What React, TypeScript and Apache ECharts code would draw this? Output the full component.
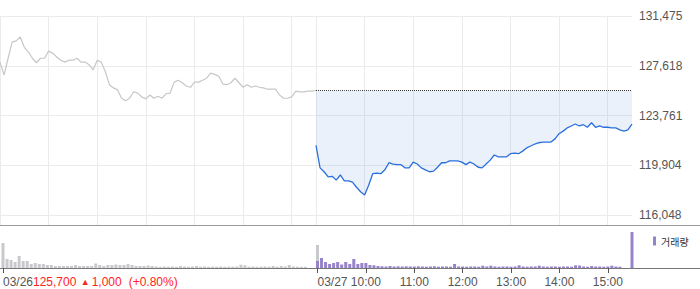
import React, { useEffect, useRef } from "react";
import * as echarts from "echarts";

// ---- data ----
const dayLabels = ["03/26", "03/27"];
const hourLabels = ["10:00", "11:00", "12:00", "13:00", "14:00", "15:00"];
const yTicks = [116048, 119904, 123761, 127618, 131475];
const yMin = 115273;
const yMax = 131475;
const prevClose = 125700;
const prevChange = 1000;
const prevChangePct = 0.8;

// 5-minute samples, 03/26 09:00 .. 15:30 (last = closing price)
const day1Price = [
  127900, 126900, 128200, 129450, 129550, 129850, 129050, 128700, 128200, 127850,
  128200, 128200, 128750, 128600, 128300, 128050, 127900, 128050, 128050, 128200,
  127900, 127900, 127700, 127300, 128050, 127900, 127150, 126150, 125900, 125750,
  125100, 124900, 125100, 125600, 125500, 125200, 125050, 125350, 125100, 125250,
  125100, 125450, 125500, 126350, 126500, 126300, 126050, 125950, 126350, 126350,
  126500, 126650, 127050, 126950, 126800, 126200, 126150, 126300, 126650, 126300,
  125950, 126150, 125950, 126050, 125950, 125900, 125800, 125800, 125800, 125350,
  125100, 125100, 125200, 125650, 125600, 125600, 125650, 125650, 125700,
];
// 5-minute samples, 03/27 09:00 .. 15:30
const day2Price = [
  121450, 119700, 119400, 119000, 119050, 118750, 119150, 118700, 118700, 118600,
  118200, 117850, 117600, 118350, 119250, 119300, 119250, 119550, 120100, 120000,
  119950, 119950, 119700, 119700, 120150, 120000, 119700, 119550, 119400, 119450,
  119750, 120100, 120100, 120250, 120250, 120250, 120150, 119950, 120150, 120000,
  119750, 119700, 120000, 120300, 120700, 120550, 120550, 120550, 120800, 120850,
  120800, 121000, 121250, 121400, 121550, 121650, 121700, 121700, 121700, 121950,
  122350, 122550, 122800, 122950, 123100, 122950, 123050, 122850, 123200, 122850,
  122950, 122850, 122850, 122800, 122800, 122650, 122550, 122650, 123100,
];
// volume (thousand shares)
const day1Volume = [
  25, 9, 8, 6, 12, 7, 7, 4, 5, 4,
  4, 3, 3, 2, 2, 2, 2, 2, 3, 2,
  2, 2, 2, 4.5, 3, 2, 3, 3, 3.5, 3,
  3, 4, 3, 2, 2, 2, 2.5, 2, 1.5, 1.2,
  1.5, 1.3, 1.5, 1.2, 2, 1.5, 1.3, 1.5, 2, 1.3,
  1.5, 1.2, 1.4, 1.3, 1.5, 1.2, 1.4, 1.3, 1.5, 3.3,
  2.7, 1.3, 1.5, 1.2, 1.4, 1.5, 1.3, 2, 1.3, 2,
  1.5, 3, 1.5, 1.3, 1.2, 1.2, 0, 0, 23,
];
const day2Volume = [
  7, 10, 6, 4, 5, 6, 3.5, 6, 4, 9,
  4, 5, 5, 3, 2.7, 2, 1.7, 1.5, 2, 1.5,
  1.7, 1.5, 1.7, 1.5, 1.5, 1.7, 1.5, 1.3, 1.5, 1.7,
  1.3, 1.5, 1.5, 1.3, 4, 1.5, 1.5, 1.3, 1.5, 1.5,
  1.3, 2.3, 1.5, 2.3, 1.5, 1.3, 1.5, 1.5, 1.3, 1.5,
  2.7, 1.5, 1.3, 1.5, 1.5, 2.3, 1.5, 1.3, 1.5, 1.5,
  1.3, 1.5, 1.5, 1.3, 2.7, 2.5, 1.5, 1.3, 2, 1.5,
  1.5, 1.3, 1.5, 2.3, 1.5, 1.3, 0, 0, 36,
];

const pad = (n: number) => String(n).padStart(2, "0");
const fmtTime = (t: number) => `${pad(Math.floor(t / 60))}:${pad(t % 60)}`;

// categories: day1 09:00..15:25, day2 09:00..15:30
const categories: string[] = [];
for (let t = 540; t < 930; t += 5) categories.push(`${dayLabels[0]} ${fmtTime(t)}`);
const day2Start = categories.length;
for (let t = 540; t <= 930; t += 5) categories.push(`${dayLabels[1]} ${fmtTime(t)}`);
const N = categories.length;

const padAfter = (arr: number[]) => [...arr, ...Array(N - arr.length).fill("-")];
const padBefore = (arr: number[]) => [...Array(N - arr.length).fill("-"), ...arr];

const isGridIdx = (idx: number) => {
  const time = categories[idx].split(" ")[1];
  if (idx === 0 || idx === day2Start) return true;
  return hourLabels.includes(time);
};
const isLabelIdx = (idx: number) => {
  if (idx === 0 || idx === day2Start) return true;
  return idx > day2Start && hourLabels.includes(categories[idx].split(" ")[1]);
};

const FONT = "'Liberation Sans', Arial, sans-serif";

export default function App() {
  const ref = useRef<HTMLDivElement>(null);
  useEffect(() => {
    document.body.style.margin = "0";
    if (!ref.current) return;
    const chart = echarts.init(ref.current, undefined, { renderer: "svg" });
    chart.setOption({
      animation: false,
      grid: [
        { left: 0, width: 632, top: 16, height: 209 },
        { left: 0, width: 632, top: 230, height: 38 },
      ],
      legend: {
        data: ["거래량"],
        left: 648,
        top: 231,
        icon: "rect",
        itemWidth: 3,
        itemHeight: 9,
        selectedMode: false,
        textStyle: { fontFamily: "'Noto Sans CJK KR', sans-serif", fontSize: 10, color: "#333" },
      },
      xAxis: [
        {
          type: "category",
          gridIndex: 0,
          data: categories,
          boundaryGap: false,
          axisLine: { show: false },
          axisTick: { show: false },
          axisLabel: { show: false },
          splitLine: {
            show: true,
            interval: (idx: number) => isGridIdx(idx),
            lineStyle: { color: "#ebebeb", width: 1 },
          },
        },
        {
          type: "category",
          gridIndex: 1,
          data: categories,
          boundaryGap: false,
          axisLine: { show: false },
          axisTick: {
            show: true,
            length: 5,
            interval: (idx: number) => isLabelIdx(idx),
            lineStyle: { color: "#555" },
          },
          splitLine: { show: false },
          axisLabel: {
            show: true,
            interval: (idx: number) => isLabelIdx(idx),
            margin: 8,
            fontFamily: FONT,
            fontSize: 12,
            color: "#555",
            alignMinLabel: "left",
            formatter: (value: string, idx: number) => {
              if (idx === 0)
                return `{d|${dayLabels[0]}}{r|${prevClose.toLocaleString("en-US")} }{t|▲}{r|${prevChange.toLocaleString("en-US")}}{p|(+${prevChangePct.toFixed(2)}%)}`;
              if (idx === day2Start) return `{e|${dayLabels[1]}}`;
              return value.split(" ")[1];
            },
            rich: {
              d: { fontFamily: FONT, fontSize: 12, color: "#555" },
              e: { fontFamily: FONT, fontSize: 12, color: "#555", padding: [0, 0, 0, 30] },
              r: { fontFamily: FONT, fontSize: 12, color: "#f22" },
              p: { fontFamily: FONT, fontSize: 12, color: "#f22", padding: [0, 0, 0, 7] },
              t: { fontFamily: FONT, fontSize: 9, color: "#f22", padding: [0, 2, 0, 1] },
            },
          },
        },
      ],
      yAxis: [
        {
          type: "value",
          gridIndex: 0,
          position: "right",
          min: yMin,
          max: yMax,
          axisLine: { show: false },
          axisTick: { show: false, customValues: yTicks },
          axisLabel: {
            customValues: yTicks,
            margin: 7,
            fontFamily: FONT,
            fontSize: 12,
            color: "#555",
            formatter: (v: number) => Math.round(v).toLocaleString("en-US"),
          },
          splitLine: { show: true, lineStyle: { color: "#ebebeb", width: 1 } },
        },
        {
          type: "value",
          gridIndex: 1,
          min: 0,
          max: 38,
          show: false,
          splitLine: { show: false },
        },
      ],
      series: [
        {
          type: "line",
          name: "03/26",
          xAxisIndex: 0,
          yAxisIndex: 0,
          data: padAfter(day1Price),
          symbol: "none",
          lineStyle: { color: "#c6c7cb", width: 1.2 },
          z: 3,
        },
        {
          type: "line",
          name: "03/27",
          xAxisIndex: 0,
          yAxisIndex: 0,
          data: padBefore(day2Price),
          symbol: "none",
          lineStyle: { color: "#2b6fdc", width: 1.3 },
          areaStyle: { color: "rgba(110,155,225,0.2)", origin: prevClose },
          z: 3,
        },
        {
          type: "line",
          name: "prevClose",
          xAxisIndex: 0,
          yAxisIndex: 0,
          data: padBefore(day2Price.map(() => prevClose)),
          symbol: "none",
          lineStyle: { color: "#333", width: 1, type: "dotted" },
          z: 4,
        },
        {
          type: "bar",
          name: "volume03/26",
          xAxisIndex: 1,
          yAxisIndex: 1,
          data: padAfter(day1Volume),
          barWidth: 3,
          barGap: "-100%",
          itemStyle: { color: "#c8c9cd" },
        },
        {
          type: "bar",
          name: "거래량",
          xAxisIndex: 1,
          yAxisIndex: 1,
          data: padBefore(day2Volume),
          barWidth: 3,
          barGap: "-100%",
          itemStyle: { color: "#9783c9" },
        },
      ],
      graphic: [
        {
          type: "line",
          silent: true,
          shape: { x1: 0, y1: 225.5, x2: 700, y2: 225.5 },
          style: { stroke: "#9a9a9a", lineWidth: 1 },
        },
        {
          type: "line",
          silent: true,
          shape: { x1: 0, y1: 268.5, x2: 700, y2: 268.5 },
          style: { stroke: "#777", lineWidth: 1 },
        },
      ],
    });
    return () => chart.dispose();
  }, []);
  return <div ref={ref} style={{ width: 700, height: 289 }} />;
}
